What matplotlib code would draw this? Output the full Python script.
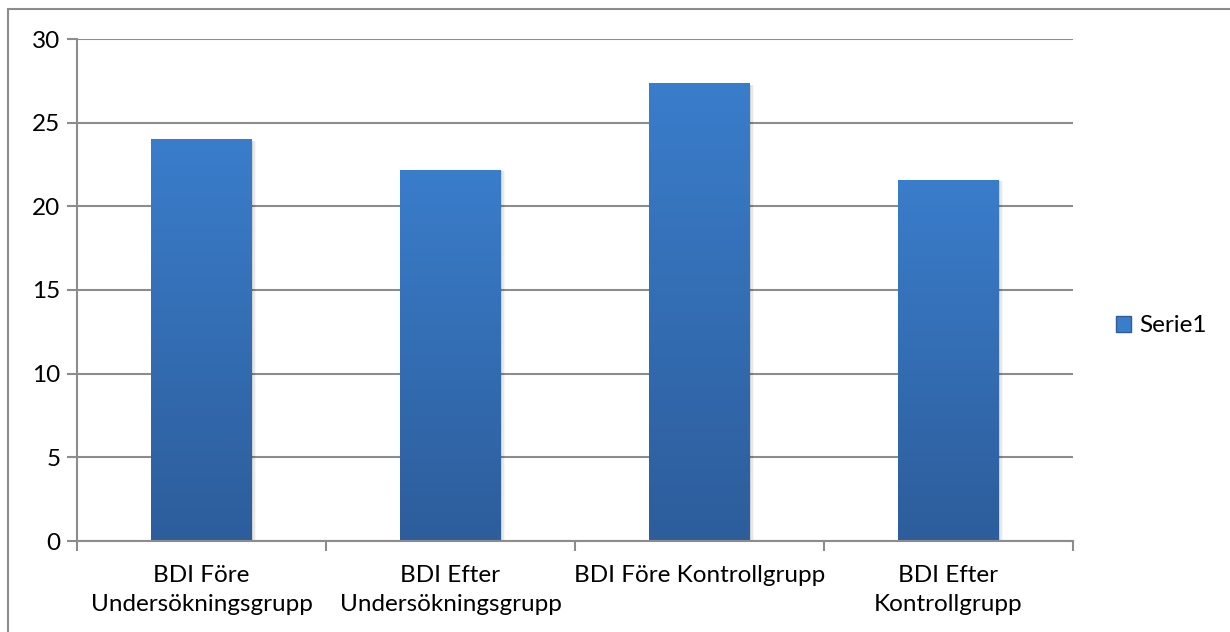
import numpy as np
import matplotlib
matplotlib.use("Agg")
import matplotlib.pyplot as plt
from matplotlib.patches import Rectangle, Patch
from matplotlib.colors import LinearSegmentedColormap

plt.rcParams['font.family'] = ['Lato', 'DejaVu Sans']

categories = ["BDI Före\nUndersökningsgrupp", "BDI Efter\nUndersökningsgrupp",
              "BDI Före Kontrollgrupp", "BDI Efter\nKontrollgrupp"]
values = [24.0, 22.2, 27.4, 21.6]
series_name = "Serie1"
y_ticks = [0, 5, 10, 15, 20, 25, 30]

W, H, DPI = 1230, 632, 100
FS = 17.5
fig = plt.figure(figsize=(W / DPI, H / DPI), dpi=DPI)
fig.patch.set_facecolor("white")

# outer chart frame (right and bottom edges run off the canvas)
fig.add_artist(Rectangle((8 / W, -0.05), 1.0, (H - 9) / H + 0.05,
                         transform=fig.transFigure, fill=False,
                         edgecolor="#8c8c8c", linewidth=1.5))

ax = fig.add_axes([77 / W, (H - 541) / H, (1073 - 77) / W, (541 - 39) / H])
n = len(categories)
x = np.arange(n)
bar_w = 0.405

ax.set_xlim(-0.5, n - 0.5)
ax.set_ylim(0, 30)

grid_c = "#8c8c8c"
for t in y_ticks:
    ax.axhline(t, color=grid_c, linewidth=1.5, zorder=1)

top_c, bot_c = "#3a7dcb", "#2d5d9b"
cmap = LinearSegmentedColormap.from_list("barfill", [bot_c, top_c])
grad = np.linspace(0, 1, 256).reshape(-1, 1)
bars = ax.bar(x, values, width=bar_w, color="none", zorder=2)
for b in bars:
    x0, y0 = b.get_x(), b.get_y()
    w, h = b.get_width(), b.get_height()
    # soft shadow on the right side
    for k, a in enumerate([0.10, 0.06, 0.03]):
        ax.add_patch(Rectangle((x0 + w, y0), 0.006 * (k + 1), h * 0.995,
                               facecolor="black", alpha=a, edgecolor="none", zorder=1.5))
    im = ax.imshow(grad, cmap=cmap, origin="lower", aspect="auto",
                   extent=(x0, x0 + w, y0, y0 + h), zorder=2)
    im.set_clip_path(b)

for s in ["top", "right"]:
    ax.spines[s].set_visible(False)
for s in ["bottom", "left"]:
    ax.spines[s].set_color(grid_c)
    ax.spines[s].set_linewidth(1.5)

ax.set_yticks(y_ticks)
ax.set_yticklabels([str(t) for t in y_ticks], fontsize=FS)
ax.tick_params(axis="y", length=7, width=1.5, color=grid_c, pad=5)

# category boundaries carry the tick marks; labels sit at the centres
ax.set_xticks(np.arange(n + 1) - 0.5)
ax.set_xticklabels([""] * (n + 1))
ax.tick_params(axis="x", length=7, width=1.5, color=grid_c)
for xi, lab in zip(x, categories):
    ax.text(xi, -1.45, lab, ha="center", va="top", fontsize=FS,
            linespacing=1.45, transform=ax.transData)

handle = Patch(facecolor=top_c, edgecolor=bot_c, label=series_name)
ax.legend(handles=[handle], loc="center left",
          bbox_to_anchor=(1094 / W, (H - 326) / H),
          bbox_transform=fig.transFigure, frameon=False, fontsize=FS,
          handlelength=0.62, handleheight=0.62, handletextpad=0.35)

fig.savefig("out.png", dpi=DPI)
